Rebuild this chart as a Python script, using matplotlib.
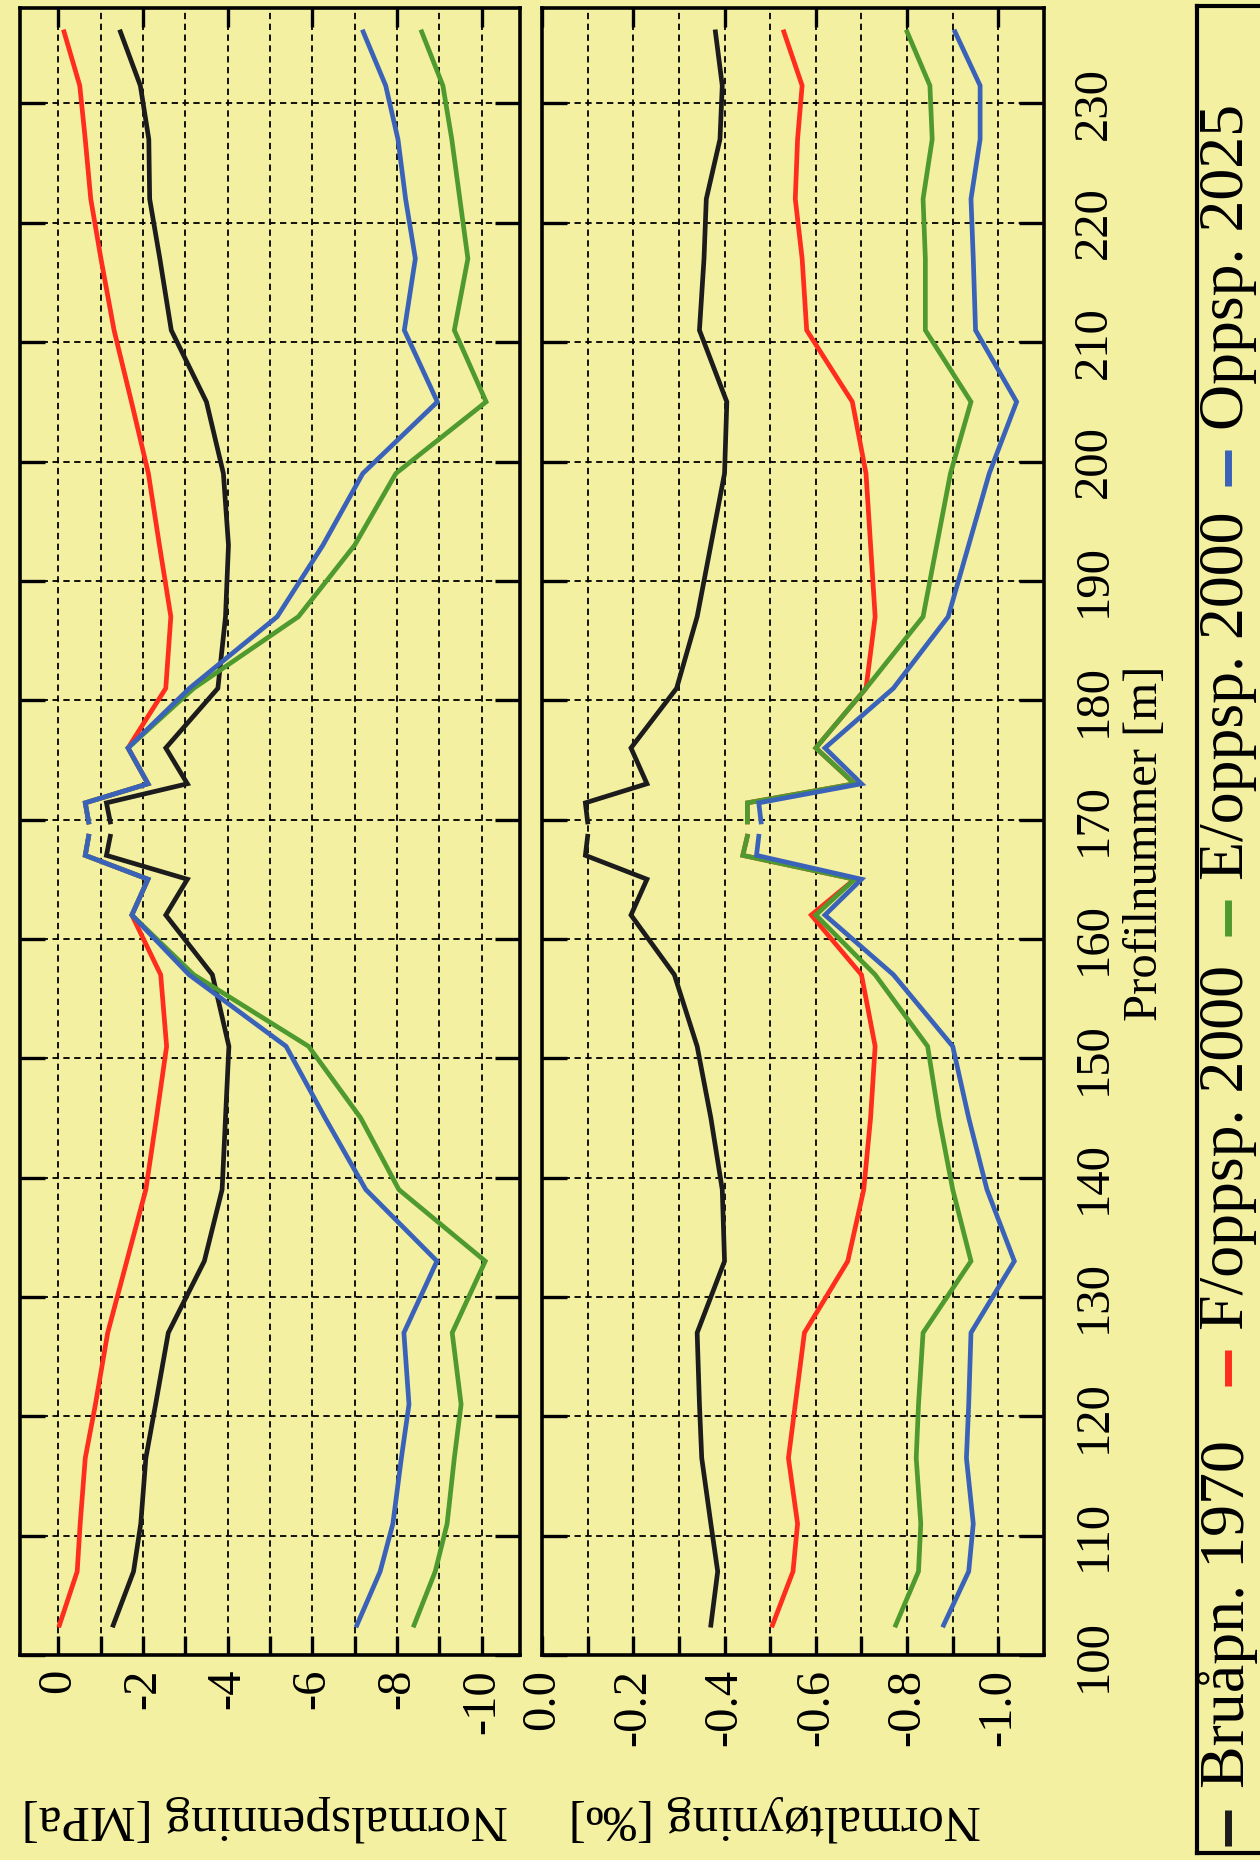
import numpy as np
import matplotlib
matplotlib.use("Agg")
import matplotlib.pyplot as plt
from matplotlib.ticker import FixedLocator

nan = np.nan

# Profile positions along the tunnel [m]; NaN marks the break in the curves
profil = [102.5, 107, 111, 116.5, 121, 127, 133, 139, 145, 151, 157, 162, 165, 167,
          168.6, nan, 169.8, 171.4, 173, 176, 181, 187, 193, 199, 205, 211, 217, 222,
          227, 231.5, 236]

# Normal stress [MPa]
spenning_1970 = [-1.3, -1.78, -1.95, -2.07, -2.3, -2.6, -3.45, -3.87, -3.95, -4.03, -3.64,
                 -2.54, -3.05, -1.14, -1.23, nan, -1.23, -1.14, -3.05, -2.54, -3.77, -3.95,
                 -4.02, -3.9, -3.5, -2.67, -2.4, -2.16, -2.14, -1.94, -1.47]
spenning_f2000 = [-0.03, -0.45, -0.52, -0.64, -0.88, -1.17, -1.62, -2.07, -2.32, -2.56, -2.42,
                  -1.74, -2.12, -0.64, -0.72, nan, -0.72, -0.64, -2.12, -1.65, -2.54, -2.66,
                  -2.39, -2.13, -1.73, -1.32, -1.01, -0.77, -0.64, -0.51, -0.14]
spenning_e2000 = [-8.4, -8.9, -9.18, -9.35, -9.51, -9.3, -10.08, -8.04, -7.14, -5.91, -3.2,
                  -1.74, -2.12, -0.64, -0.72, nan, -0.72, -0.64, -2.12, -1.65, -3.2, -5.67,
                  -7.0, -7.97, -10.1, -9.35, -9.67, -9.48, -9.29, -9.08, -8.58]
spenning_2025 = [-7.05, -7.6, -7.9, -8.1, -8.28, -8.16, -8.94, -7.26, -6.3, -5.38, -3.09,
                 -1.74, -2.12, -0.64, -0.72, nan, -0.72, -0.64, -2.12, -1.65, -3.1, -5.17,
                 -6.25, -7.19, -8.95, -8.17, -8.43, -8.2, -8.02, -7.73, -7.2]

# Normal strain [per mille]
toyning_1970 = [-0.37, -0.385, -0.37, -0.35, -0.345, -0.34, -0.40, -0.395, -0.37, -0.34, -0.29,
                -0.195, -0.23, -0.095, -0.1, nan, -0.1, -0.095, -0.23, -0.195, -0.295, -0.34,
                -0.37, -0.40, -0.405, -0.345, -0.355, -0.36, -0.39, -0.395, -0.38]
toyning_f2000 = [-0.505, -0.55, -0.56, -0.54, -0.555, -0.575, -0.67, -0.705, -0.72, -0.73, -0.70,
                 -0.59, -0.685, -0.44, -0.45, nan, -0.45, -0.45, -0.685, -0.60, -0.71, -0.73,
                 -0.72, -0.71, -0.68, -0.58, -0.57, -0.555, -0.56, -0.57, -0.53]
toyning_e2000 = [-0.775, -0.825, -0.83, -0.82, -0.825, -0.835, -0.94, -0.90, -0.87, -0.845, -0.73,
                 -0.60, -0.685, -0.44, -0.45, nan, -0.45, -0.45, -0.685, -0.60, -0.71, -0.835,
                 -0.865, -0.895, -0.94, -0.84, -0.84, -0.835, -0.855, -0.85, -0.80]
toyning_2025 = [-0.88, -0.935, -0.945, -0.93, -0.935, -0.94, -1.035, -0.975, -0.935, -0.90, -0.77,
                -0.62, -0.70, -0.47, -0.475, nan, -0.48, -0.475, -0.70, -0.62, -0.77, -0.89,
                -0.935, -0.98, -1.04, -0.95, -0.945, -0.94, -0.96, -0.96, -0.905]

serier = ["Bruåpn. 1970", "F/oppsp. 2000", "E/oppsp. 2000", "Oppsp. 2025"]
farger = ["#1c1c1c", "#ff2d1e", "#4f9a2e", "#3a62b8"]

profil_ticks = list(range(100, 231, 10))
spenning_ticks = [0, -2, -4, -6, -8, -10]
toyning_ticks = [0.0, -0.2, -0.4, -0.6, -0.8, -1.0]

plt.rcParams["font.family"] = ["Liberation Serif", "DejaVu Serif"]
plt.rcParams["axes.unicode_minus"] = False

BG = "#f4f0a2"
W, H = 1260, 1860
fig = plt.figure(figsize=(W / 100, H / 100), dpi=100, facecolor=BG)


def px_box(x0, x1, ytop, ybot):
    return [x0 / W, 1 - ybot / H, (x1 - x0) / W, (ybot - ytop) / H]


ax1 = fig.add_axes(px_box(20, 520, 8, 1655), facecolor=BG)
ax2 = fig.add_axes(px_box(542, 1044, 8, 1655), facecolor=BG)

P = np.array(profil, dtype=float)
stress = [spenning_1970, spenning_f2000, spenning_e2000, spenning_2025]
strain = [toyning_1970, toyning_f2000, toyning_e2000, toyning_2025]

for vals, c in zip(stress, farger):
    ax1.plot(np.array(vals, dtype=float), P, color=c, lw=3.4, solid_joinstyle="miter", zorder=3)
for vals, c in zip(strain, farger):
    ax2.plot(np.array(vals, dtype=float), P, color=c, lw=3.4, solid_joinstyle="miter", zorder=3)

grid_kw = dict(color="black", lw=1.3, linestyle=(0, (3.5, 2.5)))

ax1.set_xlim(0.9, -10.9)
ax2.set_xlim(0.0, -1.1)
for ax in (ax1, ax2):
    ax.set_ylim(100, 238)
    for s in ax.spines.values():
        s.set_linewidth(2.6)
    ax.yaxis.set_major_locator(FixedLocator(profil_ticks))
    ax.tick_params(axis="y", which="major", direction="in", length=18, width=2.4,
                   left=True, right=True, labelleft=False)
    ax.tick_params(axis="x", which="major", direction="in", length=14, width=2.4,
                   top=True, bottom=True, labeltop=False)
    ax.tick_params(axis="x", which="minor", direction="in", length=14, width=2.4,
                   top=False, bottom=True)
    for yv in profil_ticks[1:]:
        ax.axhline(yv, zorder=1, **grid_kw)

ax1.xaxis.set_major_locator(FixedLocator(spenning_ticks))
ax1.xaxis.set_minor_locator(FixedLocator([-1, -3, -5, -7, -9]))
ax1.set_xticklabels([f"{v:d}" for v in spenning_ticks])
for xv in range(0, -11, -1):
    ax1.axvline(xv, zorder=1, **grid_kw)

ax2.xaxis.set_major_locator(FixedLocator(toyning_ticks))
ax2.xaxis.set_minor_locator(FixedLocator([-0.1, -0.3, -0.5, -0.7, -0.9]))
ax2.set_xticklabels([f"{v:.1f}" if v != 0 else "0.0" for v in toyning_ticks])
for k in range(1, 11):
    ax2.axvline(-k / 10, zorder=1, **grid_kw)

for ax in (ax1, ax2):
    ax.tick_params(axis="x", labelsize=35, pad=10, labelrotation=90)

ax2.tick_params(axis="y", labelright=True, labelsize=35, pad=20, labelrotation=90)
for lbl in ax2.get_yticklabels():
    lbl.set_va("center")

fig.text(1145 / W, 1 - 843 / H, "Profilnummer [m]", rotation=90, ha="center",
         va="center", fontsize=35)
fig.text(265 / W, 1 - 1818 / H, "Normalspenning [MPa]", rotation=180, ha="center",
         va="center", fontsize=37)
fig.text(775 / W, 1 - 1818 / H, "Normaltøyning [‰]", rotation=180, ha="center",
         va="center", fontsize=37)

# Legend box with vertical entries
lax = fig.add_axes(px_box(1197, 1275, 6, 1853), facecolor="none")
lax.set_xlim(1197, 1275)
lax.set_ylim(1853, 6)
lax.set_xticks([])
lax.set_yticks([])
for s in lax.spines.values():
    s.set_linewidth(3.0)
leg_line = [(1810, 1846), (1350, 1386), (900, 936), (450, 486)]
leg_text = [1788, 1330, 880, 430]
for name, c, (y0, y1), yt in zip(serier, farger, leg_line, leg_text):
    lax.plot([1228, 1228], [y0, y1], color=c, lw=5, solid_capstyle="butt")
    lax.text(1228, yt, name, rotation=90, ha="center", va="bottom", fontsize=46)

fig.savefig("out.png", dpi=100, facecolor=BG)
